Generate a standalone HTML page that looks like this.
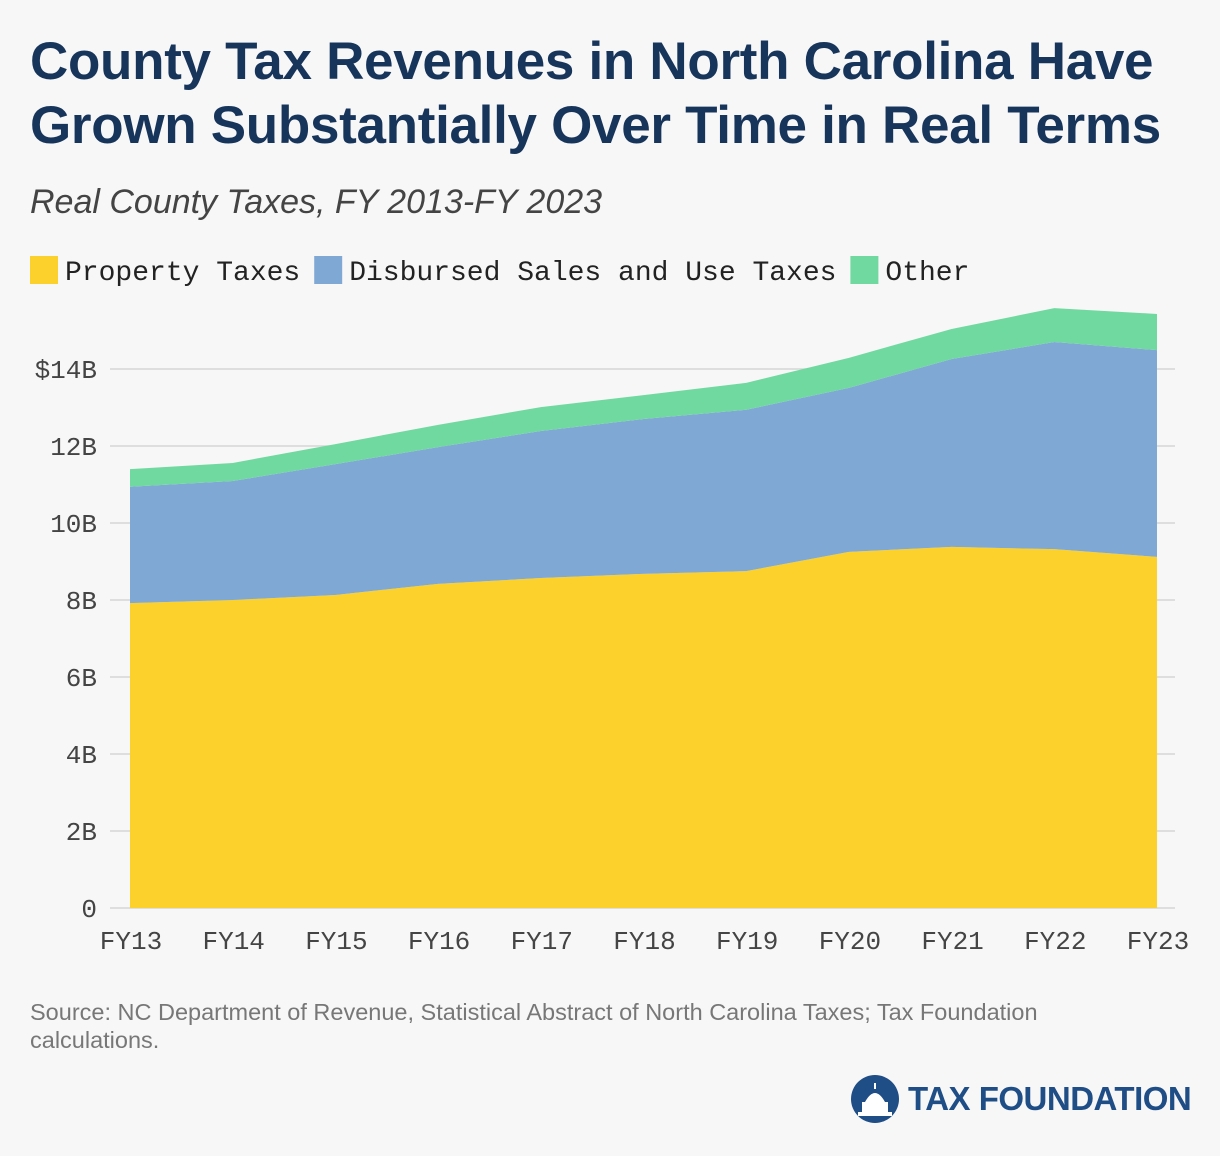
<!DOCTYPE html>
<html><head><meta charset="utf-8">
<style>
body{margin:0;background:#f7f7f7;font-family:"Liberation Sans",sans-serif;}
#wrap{position:relative;width:1220px;height:1156px;overflow:hidden;background:#f7f7f7;}
h1{position:absolute;left:30px;top:30px;margin:0;font-size:53px;line-height:64px;color:#17355a;font-weight:bold;letter-spacing:-0.3px;white-space:nowrap;}
.sub{position:absolute;left:30px;top:183px;font-size:34px;font-style:italic;color:#444;}
.src{position:absolute;left:30px;top:998px;font-size:23.5px;line-height:28px;color:#777;width:1060px;}
.logo{position:absolute;left:850px;top:1074px;display:flex;align-items:center;}
.logo span{font-size:33px;font-weight:bold;color:#1f4d86;margin-left:8px;letter-spacing:-0.5px;}
</style></head><body>
<div id="wrap">
<h1>County Tax Revenues in North Carolina Have<br>Grown Substantially Over Time in Real Terms</h1>
<div class="sub">Real County Taxes, FY 2013-FY 2023</div>
<svg id="chart" width="1220" height="1156" style="position:absolute;left:0;top:0"></svg>
<div class="src">Source: NC Department of Revenue, Statistical Abstract of North Carolina Taxes; Tax Foundation calculations.</div>
<div class="logo">
<svg width="50" height="50" viewBox="0 0 50 50"><circle cx="25" cy="25" r="24" fill="#1f4d86"/><path d="M8 42 H42 V38 H8Z M12 38 V28 H38 V38 M15 28 Q25 10 35 28" fill="#fff"/><rect x="24" y="9" width="2" height="6" fill="#fff"/></svg>
<span>TAX FOUNDATION</span></div>
</div>
<script>
const categories=["FY13","FY14","FY15","FY16","FY17","FY18","FY19","FY20","FY21","FY22","FY23"];
const propertyTaxes=[7.92,8.0,8.13,8.42,8.57,8.68,8.75,9.25,9.38,9.32,9.12];
const salesTaxes=[3.02,3.09,3.40,3.55,3.82,4.02,4.19,4.26,4.88,5.38,5.37];
const otherTaxes=[0.46,0.47,0.52,0.58,0.62,0.62,0.70,0.78,0.78,0.88,0.94];
const yTicks=[0,2,4,6,8,10,12,14];
const yTickLabels=["0","2B","4B","6B","8B","10B","12B","$14B"];
const seriesNames=["Property Taxes","Disbursed Sales and Use Taxes","Other"];
const colors=["#fdd12b","#80a8d5","#70d9a0"];

const NS="http://www.w3.org/2000/svg";
const svg=document.getElementById('chart');
const x=i=>130+i*(1157-130)/(categories.length-1);
const y=v=>908-v*38.5;
function mk(t,a){const e=document.createElementNS(NS,t);for(const k in a)e.setAttribute(k,a[k]);svg.appendChild(e);return e;}
yTicks.forEach((t,i)=>{
  const l=mk('line',{x1:110,x2:1175,y1:y(t),y2:y(t),stroke:'#d6d6d6','stroke-width':1.5});
  
  
  const tx=mk('text',{x:97,y:y(t)+9,'text-anchor':'end','font-family':'Liberation Mono, monospace','font-size':26,fill:'#444'});
  tx.textContent=yTickLabels[i];
  
  
});
const series=[propertyTaxes,salesTaxes,otherTaxes];
let base=categories.map(()=>0);
series.forEach((s,si)=>{
  const top=base.map((b,i)=>b+s[i]);
  let d='M'+categories.map((c,i)=>x(i)+','+y(top[i])).join(' L');
  for(let i=categories.length-1;i>=0;i--)d+=' L'+x(i)+','+y(base[i]);
  const p=mk('path',{d:d+'Z',fill:colors[si]});
  
  
  base=top;
});
categories.forEach((c,i)=>{
  const t=mk('text',{x:x(i)+1,y:949,'text-anchor':'middle','font-family':'Liberation Mono, monospace','font-size':26,fill:'#444'});
  t.textContent=c;
  
  
});
let lx=30;
seriesNames.forEach((n,i)=>{
  const r=mk('rect',{x:lx,y:256,width:28,height:28,fill:colors[i]});
  
  
  const t=mk('text',{x:lx+35,y:280,'font-family':'Liberation Mono, monospace','font-size':28,fill:'#222'});
  t.textContent=n;
  
  
  lx+=35+n.length*16.8+14;
});
</script>
</body></html>
